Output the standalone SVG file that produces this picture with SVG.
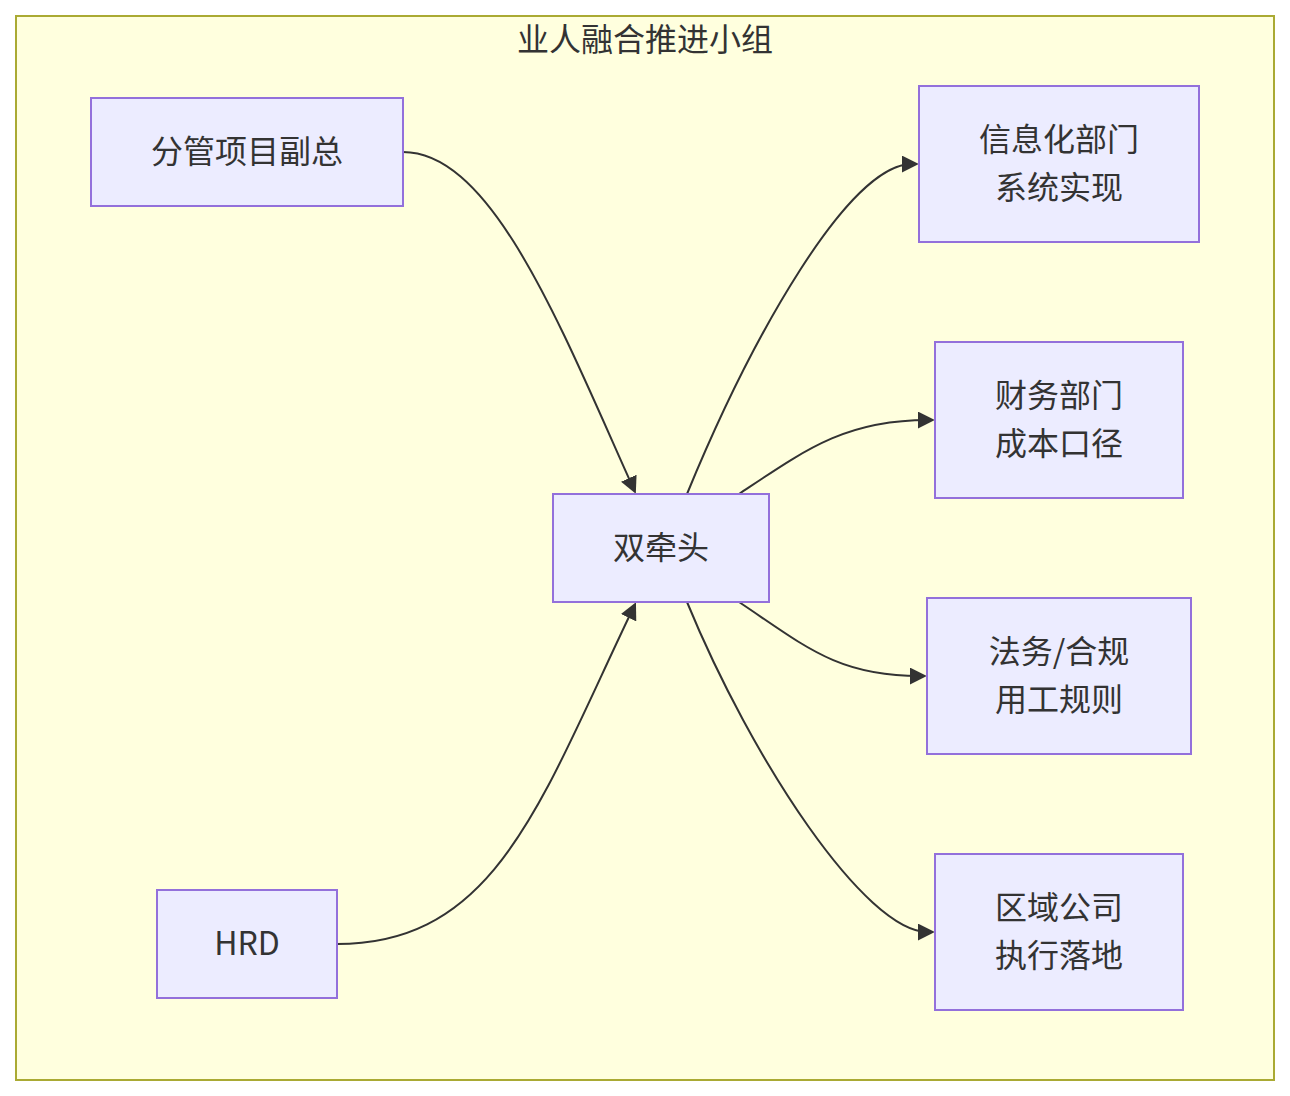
<svg xmlns="http://www.w3.org/2000/svg" width="1290" height="1096" viewBox="0 0 1290 1096">
<style>
.cluster{fill:#ffffde;stroke:#aaaa33;stroke-width:2}
.node rect{fill:#ececff;stroke:#9370db;stroke-width:2}
text{font-family:"Noto Sans CJK SC","Noto Sans",sans-serif;font-size:32px;fill:#333333;text-anchor:middle;dominant-baseline:central}
.edge{fill:none;stroke:#333333;stroke-width:2;marker-end:url(#arrow)}
</style>
<defs>
<marker id="arrow" viewBox="0 0 10 10" refX="6" refY="5" markerWidth="17" markerHeight="17" markerUnits="userSpaceOnUse" orient="auto">
<path d="M0,0 L10,5 L0,10 z" fill="#333333"/>
</marker>
</defs>
<g id="cluster">
<rect class="cluster" x="16" y="16" width="1258" height="1064"/>
<text x="645" y="37">业人融合推进小组</text>
</g>
<g id="edges">
<path class="edge" d="M403,152 C493,152 562,330 633,487.5"/>
<path class="edge" d="M337,944 C497,944 541,800 633,608.5"/>
<path class="edge" d="M687,494 C752,336 849,164 912,164"/>
<path class="edge" d="M739,494 C805,450 845,420 928,420"/>
<path class="edge" d="M739,602 C805,646 837,676 920,676"/>
<path class="edge" d="M687,602 C752,760 865,932 928,932"/>
</g>
<g id="n-fuzong" class="node">
<rect x="91" y="98" width="312" height="108"/>
<text x="247" y="149">分管项目副总</text>
</g>
<g id="n-hrd" class="node">
<rect x="157" y="890" width="180" height="108"/>
<text x="247" y="941">HRD</text>
</g>
<g id="n-shuang" class="node">
<rect x="553" y="494" width="216" height="108"/>
<text x="661" y="545">双牵头</text>
</g>
<g id="n-xinxi" class="node">
<rect x="919" y="86" width="280" height="156"/>
<text x="1059" y="137">信息化部门</text>
<text x="1059" y="185">系统实现</text>
</g>
<g id="n-caiwu" class="node">
<rect x="935" y="342" width="248" height="156"/>
<text x="1059" y="393">财务部门</text>
<text x="1059" y="441">成本口径</text>
</g>
<g id="n-fawu" class="node">
<rect x="927" y="598" width="264" height="156"/>
<text x="1059" y="649">法务/合规</text>
<text x="1059" y="697">用工规则</text>
</g>
<g id="n-quyu" class="node">
<rect x="935" y="854" width="248" height="156"/>
<text x="1059" y="905">区域公司</text>
<text x="1059" y="953">执行落地</text>
</g>
</svg>
